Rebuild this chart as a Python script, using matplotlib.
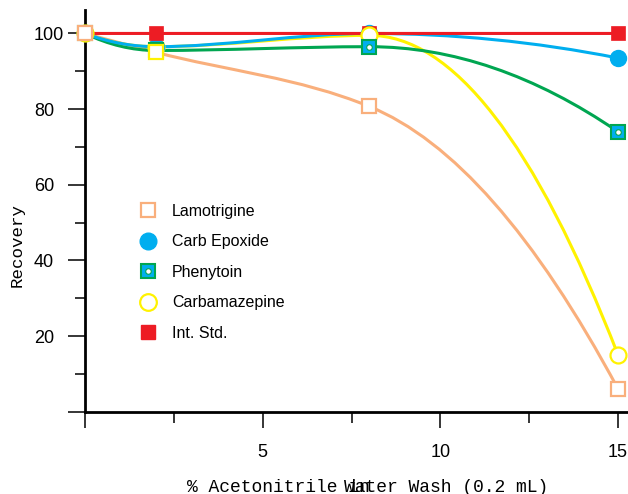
import numpy as np
import matplotlib
matplotlib.use("Agg")
import matplotlib.pyplot as plt
from matplotlib.path import Path
from matplotlib.patches import PathPatch
from matplotlib.lines import Line2D

# ---------------- data ----------------
wash_pct = [0, 2, 8, 15]
lamotrigine = [100, 95, 80.7, 6]
carb_epoxide = [100, 96.5, 100, 93.5]
phenytoin = [100, 95.5, 96.5, 74]
carbamazepine = [100, 96.5, 99.5, 15]
int_std = [100, 100, 100, 100]
series_names = ["Lamotrigine", "Carb Epoxide", "Phenytoin", "Carbamazepine", "Int. Std."]
x_ticks = [0, 5, 10, 15]
x_tick_labels = ["", "5", "10", "15"]
y_ticks = [0, 20, 40, 60, 80, 100]
y_tick_labels = ["", "20", "40", "60", "80", "100"]

ORANGE = "#F9AF7C"
BLUE = "#00AEEF"
GREEN = "#00A651"
YELLOW = "#FFF200"
RED = "#ED1C24"

SANS = "Liberation Sans"
MONO = "Liberation Mono"

W, H = 628, 494
fig = plt.figure(figsize=(W / 100, H / 100), dpi=100)
ax = fig.add_axes([85 / W, (H - 411.7) / H, 1 - 85 / W, 401.7 / H])


def smooth_slopes(x, y):
    """Monotone (Fritsch-Carlson) interior slopes, parabolic end conditions."""
    x = np.asarray(x, float)
    y = np.asarray(y, float)
    h = np.diff(x)
    dl = np.diff(y) / h
    n = len(x)
    d = np.zeros(n)
    for k in range(1, n - 1):
        if dl[k - 1] * dl[k] <= 0:
            d[k] = 0.0
        else:
            w1 = 2 * h[k] + h[k - 1]
            w2 = h[k] + 2 * h[k - 1]
            d[k] = (w1 + w2) / (w1 / dl[k - 1] + w2 / dl[k])
    d[0] = 2 * dl[0] - d[1]
    d[-1] = 2 * dl[-1] - d[-2]
    return d


def smooth_curve(x, y, color, z):
    d = smooth_slopes(x, y)
    verts = [(x[0], y[0])]
    codes = [Path.MOVETO]
    for i in range(len(x) - 1):
        h = x[i + 1] - x[i]
        verts += [(x[i] + h / 3, y[i] + d[i] * h / 3),
                  (x[i + 1] - h / 3, y[i + 1] - d[i + 1] * h / 3),
                  (x[i + 1], y[i + 1])]
        codes += [Path.CURVE4] * 3
    patch = PathPatch(Path(verts, codes), fill=False, edgecolor=color, lw=2.2,
                      capstyle="round", joinstyle="round", zorder=z)
    ax.add_patch(patch)


# smooth lines
smooth_curve(wash_pct, lamotrigine, ORANGE, 2.0)
smooth_curve(wash_pct, carbamazepine, YELLOW, 2.1)
smooth_curve(wash_pct, phenytoin, GREEN, 2.2)
smooth_curve(wash_pct, carb_epoxide, BLUE, 2.3)
smooth_curve(wash_pct, int_std, RED, 2.4)

# markers
ax.plot(wash_pct, carbamazepine, ls="none", marker="o", ms=11.5, mfc="white",
        mec=YELLOW, mew=1.6, markevery=[1], zorder=3, clip_on=False)
ax.plot(wash_pct, carb_epoxide, ls="none", marker="o", ms=11.5, mfc=BLUE,
        mec=BLUE, zorder=4, clip_on=False)
ax.plot(wash_pct, int_std, ls="none", marker="s", ms=10.5, mfc=RED, mec=RED,
        mew=0.5, zorder=5, clip_on=False)
ax.plot(wash_pct, carbamazepine, ls="none", marker="o", ms=11.5, mfc="white",
        mec=YELLOW, mew=1.6, markevery=[0, 2, 3], zorder=6, clip_on=False)
ax.plot(wash_pct, phenytoin, ls="none", marker="s", ms=10, mfc=BLUE, mec=GREEN,
        mew=1.5, zorder=6, clip_on=False)
ax.plot(wash_pct, phenytoin, ls="none", marker="o", ms=4, mfc="white", mec=GREEN,
        mew=0.8, zorder=6.1, clip_on=False)
ax.plot(wash_pct, lamotrigine, ls="none", marker="s", ms=10, mfc="white",
        mec=ORANGE, mew=1.6, markevery=[0, 2, 3], zorder=7, clip_on=False)
ax.plot(wash_pct, lamotrigine, ls="none", marker="s", ms=10, mfc="white",
        mec=YELLOW, mew=1.6, markevery=[1], zorder=7, clip_on=False)

# axes styling
ax.set_xlim(0, 15.28)
ax.set_ylim(0, 106.2)
for s in ("top", "right"):
    ax.spines[s].set_visible(False)
for s in ("left", "bottom"):
    ax.spines[s].set_linewidth(2.0)
    ax.spines[s].set_color("black")

ax.set_xticks(x_ticks)
ax.set_xticklabels(x_tick_labels, fontfamily=SANS, fontsize=13)
ax.set_xticks([2.5, 7.5, 12.5], minor=True)
ax.set_yticks(y_ticks)
ax.set_yticklabels(y_tick_labels, fontfamily=SANS, fontsize=13)
ax.set_yticks([10, 30, 50, 70, 90], minor=True)

ax.tick_params(axis="x", which="major", direction="out", length=11.5, width=1.1, pad=12)
ax.tick_params(axis="x", which="minor", direction="out", length=8, width=1.1)
ax.tick_params(axis="y", which="major", direction="out", length=12.2, width=1.1, pad=24.5)
ax.tick_params(axis="y", which="minor", direction="out", length=7.2, width=1.1)
for lab in ax.get_yticklabels():
    lab.set_horizontalalignment("left")

# legend
h_lam = Line2D([], [], ls="none", marker="s", ms=10.5, mfc="white", mec=ORANGE, mew=1.6)
h_epo = Line2D([], [], ls="none", marker="o", ms=12, mfc=BLUE, mec=BLUE)
h_phe = (Line2D([], [], ls="none", marker="s", ms=10.5, mfc=BLUE, mec=GREEN, mew=1.5),
         Line2D([], [], ls="none", marker="o", ms=4, mfc="white", mec=GREEN, mew=0.8))
h_car = Line2D([], [], ls="none", marker="o", ms=12, mfc="white", mec=YELLOW, mew=1.6)
h_std = Line2D([], [], ls="none", marker="s", ms=10.5, mfc=RED, mec=RED)
leg = ax.legend([h_lam, h_epo, h_phe, h_car, h_std], series_names,
                loc="upper left", bbox_to_anchor=((140 - 85) / (W - 85), (411.7 - 204) / 401.7),
                frameon=False, prop={"family": SANS, "size": 11.5},
                handlelength=1.0, handletextpad=1.0, labelspacing=0.97,
                borderpad=0, borderaxespad=0)

# axis titles
fig.text(17 / W, 1 - 245 / H, "Recovery", rotation=90, ha="center", va="center",
         fontfamily=MONO, fontsize=12.6)
fig.text(187 / W, 1 - 492 / H, "% Acetonitrile in", ha="left", va="baseline",
         fontfamily=MONO, fontsize=13)
fig.text(548 / W, 1 - 492 / H, "Water Wash (0.2 mL)", ha="right", va="baseline",
         fontfamily=MONO, fontsize=13)

fig.savefig("out.png", dpi=100)
